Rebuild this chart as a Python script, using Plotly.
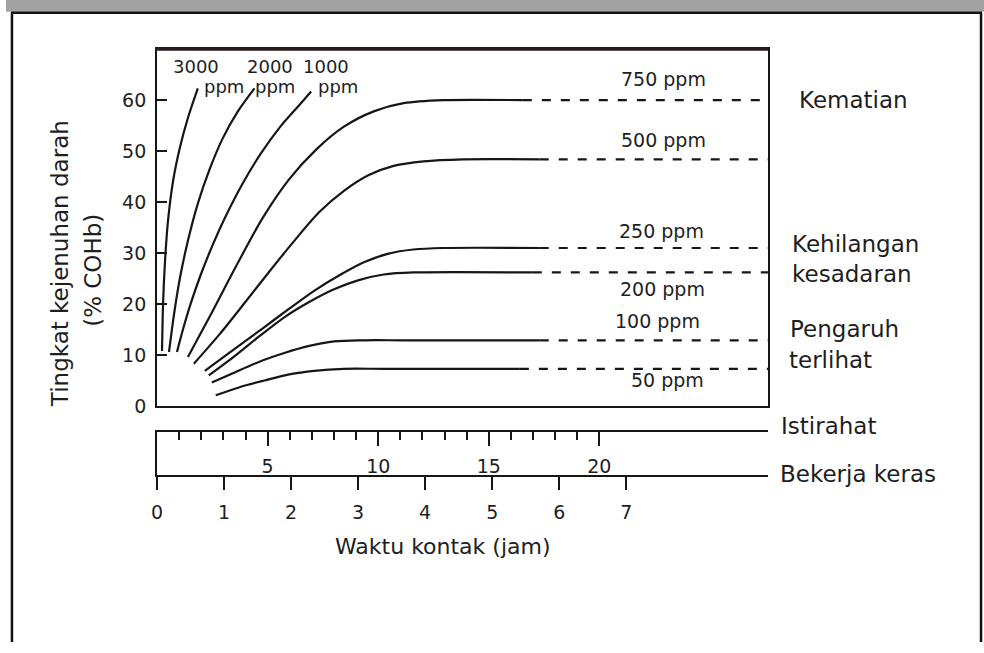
import plotly.graph_objects as go

# ---------------- data ----------------
# exposure time in hours (heavy-work scale) and blood saturation % COHb
t_3000 = [0.074, 0.089, 0.119, 0.163, 0.237, 0.341, 0.460, 0.608]
c_3000 = [10.8, 19.9, 28.5, 36.3, 44.0, 50.7, 56.5, 62.3]

t_2000 = [0.178, 0.252, 0.341, 0.460, 0.608, 0.786, 0.979, 1.201, 1.453]
c_2000 = [10.6, 17.9, 25.1, 32.4, 39.7, 46.5, 52.5, 57.7, 62.3]

t_1000 = [0.297, 0.386, 0.504, 0.653, 0.830, 1.038, 1.275, 1.542, 1.839, 2.120, 2.299]
c_1000 = [10.6, 15.0, 20.2, 25.8, 31.6, 37.6, 43.6, 49.4, 54.8, 59.0, 61.7]

t_750 = [0.460, 0.816, 1.186, 1.572, 1.972, 2.373, 2.788, 3.233, 3.678, 4.271, 5.457]
c_750 = [9.6, 18.3, 27.6, 36.8, 44.5, 50.3, 54.8, 57.8, 59.4, 60.0, 60.0]

t_500 = [0.549, 0.934, 1.305, 1.676, 2.047, 2.417, 2.788, 3.159, 3.530, 3.974, 4.568, 5.709]
c_500 = [8.3, 14.1, 20.2, 26.4, 32.4, 38.0, 42.2, 45.3, 47.1, 48.0, 48.4, 48.4]

t_250 = [0.712, 1.157, 1.572, 1.972, 2.343, 2.714, 3.085, 3.455, 3.826, 4.271, 5.709]
c_250 = [6.9, 11.2, 15.2, 19.1, 22.6, 25.6, 28.2, 29.9, 30.7, 31.0, 31.0]

t_200 = [0.771, 1.157, 1.527, 1.898, 2.269, 2.640, 3.010, 3.381, 3.826, 5.606]
c_200 = [6.0, 9.8, 13.7, 17.4, 20.4, 22.9, 24.7, 25.8, 26.2, 26.2]

t_100 = [0.816, 1.157, 1.527, 1.898, 2.269, 2.640, 3.085, 3.678, 5.709]
c_100 = [4.6, 6.6, 8.7, 10.4, 11.8, 12.7, 12.9, 12.9, 12.9]

t_50 = [0.875, 1.231, 1.602, 1.972, 2.343, 2.788, 3.381, 5.413]
c_50 = [2.1, 3.7, 5.0, 6.2, 6.9, 7.3, 7.3, 7.3]

rising_series = [("3000", t_3000, c_3000), ("2000", t_2000, c_2000), ("1000", t_1000, c_1000)]
plateau_series = [("750", t_750, c_750), ("500", t_500, c_500), ("250", t_250, c_250),
                  ("200", t_200, c_200), ("100", t_100, c_100), ("50", t_50, c_50)]

y_ticks = [0, 10, 20, 30, 40, 50, 60]
hour_ticks = [0, 1, 2, 3, 4, 5, 6, 7]
hour_labels = ["0", "1", "2", "3", "4", "5", "6", "7"]
rest_ticks = [5, 10, 15, 20]
rest_labels = ["5", "10", "15", "20"]
rest_minor = list(range(1, 21))

effect_labels = ["Kematian", "Kehilangan", "kesadaran", "Pengaruh", "terlihat", "Istirahat", "Bekerja keras"]

# ---------------- styling / layout ----------------
W, H = 984, 653
INK = "#161616"
TXT = "#1e1e1e"
FONT = "DejaVu Sans"
HMAX = 9.12          # hours at right border
RMAX = 27.64         # rest-scale units at right border
YMAX = 70

def px_x(p):
    return p / W

def px_y(p):
    return (H - p) / H

xdom = [px_x(152), px_x(767)]

fig = go.Figure()

line_style = dict(color=INK, width=2.2, shape="spline", smoothing=0.8)

for name, t, c in rising_series:
    fig.add_trace(go.Scatter(x=t, y=c, mode="lines", line=line_style,
                             name=name + " ppm", showlegend=False, hoverinfo="skip"))

for name, t, c in plateau_series:
    fig.add_trace(go.Scatter(x=t, y=c, mode="lines", line=line_style,
                             name=name + " ppm", showlegend=False, hoverinfo="skip"))
    fig.add_trace(go.Scatter(x=[t[-1], HMAX], y=[c[-1], c[-1]], mode="lines",
                             line=dict(color=INK, width=2.2, dash="9px,10px"),
                             showlegend=False, hoverinfo="skip"))

# empty traces so that the two time-scale strips get their own subplots
fig.add_trace(go.Scatter(x=hour_ticks, y=[None] * len(hour_ticks), xaxis="x3", yaxis="y2",
                         mode="lines", showlegend=False, hoverinfo="skip"))
fig.add_trace(go.Scatter(x=rest_ticks, y=[None] * len(rest_ticks), xaxis="x2", yaxis="y4",
                         mode="lines", showlegend=False, hoverinfo="skip"))

annotations = []

# top-left ppm labels (number line + "ppm" line)
top_label_pos = {"3000": ((0.222, 66.6), (0.682, 62.7)),
                 "2000": ((1.320, 66.6), (1.453, 62.7)),
                 "1000": ((2.165, 66.6), (2.388, 62.7))}
for name, _, _ in rising_series:
    (nx, ny), (ux, uy) = top_label_pos[name]
    annotations.append(dict(x=nx, y=ny, xref="x", yref="y", text=name, showarrow=False,
                            xanchor="left", yanchor="middle", borderpad=0,
                            font=dict(size=18, color=TXT, family=FONT)))
    annotations.append(dict(x=ux, y=uy, xref="x", yref="y", text="ppm", showarrow=False,
                            xanchor="left", yanchor="middle", borderpad=0,
                            font=dict(size=18, color=TXT, family=FONT)))

# right ppm labels
right_label_pos = {"750": (6.896, 64.2), "500": (6.896, 52.1), "250": (6.866, 34.3),
                   "200": (6.881, 22.9), "100": (6.807, 16.6), "50": (7.044, 5.2)}
for name, _, _ in plateau_series:
    lx, ly = right_label_pos[name]
    annotations.append(dict(x=lx, y=ly, xref="x", yref="y", text=name + " ppm", showarrow=False,
                            xanchor="left", yanchor="middle", font=dict(size=19, color=TXT, family=FONT)))

# effect labels at right
effect_pos = [(796, 102), (789, 248), (789, 279), (787, 335), (786, 366), (778, 433), (777, 482)]
for txt, (lx, ly) in zip(effect_labels, effect_pos):
    annotations.append(dict(x=px_x(lx), y=px_y(ly), xref="paper", yref="paper", text=txt,
                            showarrow=False, xanchor="left", yanchor="middle",
                            font=dict(size=23, color=TXT, family=FONT)))

# axis titles
annotations.append(dict(x=px_x(55), y=px_y(268), xref="paper", yref="paper",
                        text="Tingkat kejenuhan darah", textangle=-90, showarrow=False,
                        xanchor="center", yanchor="middle", font=dict(size=23, color=TXT, family=FONT)))
annotations.append(dict(x=px_x(88), y=px_y(275), xref="paper", yref="paper",
                        text="(% COHb)", textangle=-90, showarrow=False,
                        xanchor="center", yanchor="middle", font=dict(size=23, color=TXT, family=FONT)))
annotations.append(dict(x=px_x(440), y=px_y(556), xref="paper", yref="paper",
                        text="Waktu kontak (jam)", showarrow=False,
                        xanchor="center", yanchor="middle", font=dict(size=22, color=TXT, family=FONT)))

shapes = [
    # grey band at very top of the scan
    dict(type="rect", xref="paper", yref="paper", x0=0, x1=1, y0=px_y(12), y1=1,
         fillcolor="#a2a2a2", line=dict(width=0), layer="below"),
    # outer frame
    dict(type="line", xref="paper", yref="paper", x0=px_x(6), x1=px_x(6), y0=0, y1=px_y(13),
         line=dict(color="#111", width=2.5)),
    dict(type="line", xref="paper", yref="paper", x0=px_x(5), x1=px_x(982), y0=px_y(13), y1=px_y(13),
         line=dict(color="#111", width=2.5)),
    dict(type="line", xref="paper", yref="paper", x0=px_x(981), x1=px_x(981), y0=0, y1=px_y(13),
         line=dict(color="#111", width=2.5)),
    # thicker top border of plot
    dict(type="line", xref="paper", yref="paper", x0=xdom[0], x1=xdom[1], y0=px_y(50), y1=px_y(50),
         line=dict(color="#2a1c1c", width=3.2)),
]

axis_common = dict(showgrid=False, zeroline=False, linecolor=INK, linewidth=2, tickcolor=INK,
                   fixedrange=True)

fig.update_layout(
    width=W, height=H, autosize=False,
    margin=dict(l=0, r=0, t=0, b=0),
    paper_bgcolor="white", plot_bgcolor="white",
    font=dict(family=FONT, color=TXT),
    showlegend=False,
    xaxis=dict(domain=xdom, range=[0, HMAX], anchor="y", showline=True, mirror=True,
               showticklabels=False, ticks="", **axis_common),
    yaxis=dict(domain=[px_y(413), px_y(50)], range=[0, YMAX], anchor="x", showline=True, mirror=True,
               tickmode="array", tickvals=y_ticks, ticktext=[str(v) for v in y_ticks],
               ticks="inside", ticklen=10, tickwidth=2, ticklabelstandoff=5,
               tickfont=dict(size=19, color=TXT, family=FONT), **axis_common),
    # hours (heavy work) axis: bottom line of strip
    xaxis3=dict(domain=xdom, range=[0, HMAX], anchor="y2", showline=True,
                tickmode="array", tickvals=hour_ticks, ticktext=hour_labels,
                ticks="outside", ticklen=13, tickwidth=2, ticklabelstandoff=6,
                tickfont=dict(size=19, color=TXT, family=FONT), **axis_common),
    yaxis2=dict(domain=[px_y(483), px_y(437)], range=[0, 1], anchor="x3", showline=True,
                showticklabels=False, ticks="", **axis_common),
    # rest axis: top line of strip, ticks pointing down
    xaxis2=dict(domain=xdom, range=[0, RMAX], anchor="y4", showline=True,
                tickmode="array", tickvals=rest_ticks, ticktext=rest_labels,
                ticks="outside", ticklen=14, tickwidth=2, ticklabelstandoff=5,
                minor=dict(tickmode="array", tickvals=rest_minor, ticks="outside",
                           ticklen=8, tickwidth=1.5, tickcolor=INK, showgrid=False),
                tickfont=dict(size=19, color=TXT, family=FONT), **axis_common),
    yaxis4=dict(domain=[px_y(437), px_y(427)], range=[0, 1], anchor="x2", visible=False,
                fixedrange=True),
    annotations=annotations,
    shapes=shapes,
)

fig.write_html("out.html", config={"displayModeBar": False},
               post_script="document.body.style.margin='0';document.body.style.overflow='hidden';"
                           "document.documentElement.style.overflow='hidden';")
